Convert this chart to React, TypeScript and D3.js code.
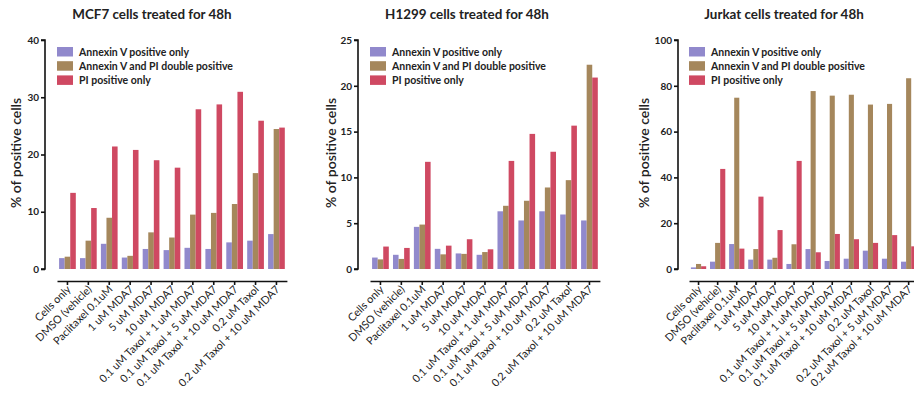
import React, { useRef, useEffect } from "react";
import * as d3 from "d3";

// treatments (x categories)
const categories = [
	"Cells only",
	"DMSO (vehicle)",
	"Paclitaxel 0.1uM",
	"1 uM MDA7",
	"5 uM MDA7",
	"10 uM MDA7",
	"0.1 uM Taxol + 1 uM MDA7",
	"0.1 uM Taxol + 5 uM MDA7",
	"0.1 uM Taxol + 10 uM MDA7",
	"0.2 uM Taxol",
	"0.2 uM Taxol + 10 uM MDA7",
];
const jurkatCategories = [
	"Cells only",
	"DMSO (vehicle)",
	"Paclitaxel 0.1uM",
	"1 uM MDA7",
	"5 uM MDA7",
	"10 uM MDA7",
	"0.1 uM Taxol + 1 uM MDA7",
	"0.1 uM Taxol + 5 uM MDA7",
	"0.1 uM Taxol + 10 uM MDA7",
	"0.2 uM Taxol",
	"0.2 uM Taxol + 5 uM MDA7",
	"0.2 uM Taxol + 10 uM MDA7",
];

const seriesNames = ["Annexin V positive only", "Annexin V and PI double positive", "PI positive only"];
const seriesColors = ["#9189cc", "#a5875c", "#cf4962"];

// MCF7
const mcf7Annexin = [1.9, 1.9, 4.4, 2.0, 3.5, 3.3, 3.7, 3.5, 4.65, 4.95, 6.1];
const mcf7Double = [2.15, 4.95, 8.95, 2.3, 6.4, 5.5, 9.5, 9.8, 11.35, 16.75, 24.45];
const mcf7PI = [13.3, 10.65, 21.4, 20.8, 19.0, 17.7, 27.9, 28.75, 30.95, 25.9, 24.7];

// H1299
const h1299Annexin = [1.25, 1.55, 4.6, 2.2, 1.7, 1.55, 6.3, 5.3, 6.3, 5.95, 5.3];
const h1299Double = [1.05, 1.1, 4.85, 1.6, 1.65, 1.85, 6.9, 7.45, 8.9, 9.7, 22.3];
const h1299PI = [2.45, 2.3, 11.7, 2.55, 3.25, 2.15, 11.8, 14.75, 12.8, 15.65, 20.9];

// Jurkat
const jurkatAnnexin = [0.7, 3.2, 10.9, 4.1, 4.1, 2.2, 8.7, 3.5, 4.5, 8.0, 4.5, 3.2];
const jurkatDouble = [2.2, 11.4, 74.8, 8.7, 4.9, 10.8, 77.7, 75.7, 76.1, 71.8, 72.1, 83.3];
const jurkatPI = [1.2, 43.7, 8.9, 31.6, 17.0, 47.2, 7.3, 15.3, 13.0, 11.4, 14.8, 9.9];

const FONT = "Lato, 'Open Sans', sans-serif";

const panels = [
	{
		title: "MCF7 cells treated for 48h", cats: categories,
		series: [mcf7Annexin, mcf7Double, mcf7PI],
		yMax: 40, ticks: [0, 10, 20, 30, 40],
		yAxisX: 45, xStart: 57, step: 20.9, titleX: 152, labelX: 15,
	},
	{
		title: "H1299 cells treated for 48h", cats: categories,
		series: [h1299Annexin, h1299Double, h1299PI],
		yMax: 25, ticks: [0, 5, 10, 15, 20, 25],
		yAxisX: 358, xStart: 370, step: 20.9, titleX: 467, labelX: 330,
	},
	{
		title: "Jurkat cells treated for 48h", cats: jurkatCategories,
		series: [jurkatAnnexin, jurkatDouble, jurkatPI],
		yMax: 100, ticks: [0, 20, 40, 60, 80, 100],
		yAxisX: 678, xStart: 689, step: 19.1, titleX: 784, labelX: 643,
	},
];

const App = () => {
	const svgRef = useRef(null);
	const W = 914;
	const H = 407;
	const yTop = 40;
	const yBottom = 269;
	const xAxisY = 281;

	useEffect(() => {
		const svg = d3.select(svgRef.current);
		svg.selectAll("*").remove();

		panels.forEach(p => {
			const g = svg.append("g");

			const x = d3.scaleBand()
				.domain(p.cats)
				.range([p.xStart, p.xStart + p.cats.length * p.step])
				.paddingInner(0.2)
				.paddingOuter(0.1);
			const sub = d3.scaleBand()
				.domain(seriesNames)
				.range([0, x.bandwidth()]);
			const y = d3.scaleLinear()
				.domain([0, p.yMax])
				.range([yBottom, yTop]);

			// title
			g.append("text")
				.attr("x", p.titleX)
				.attr("y", 19)
				.attr("text-anchor", "middle")
				.attr("font-family", FONT)
				.attr("font-weight", 700)
				.attr("font-size", 13.4)
				.attr("fill", "#222")
				.text(p.title);

			// y label
			g.append("text")
				.attr("transform", `translate(${p.labelX}, 153) rotate(-90)`)
				.attr("text-anchor", "middle")
				.attr("dominant-baseline", "central")
				.attr("font-family", FONT)
				.attr("font-weight", 600)
				.attr("font-size", 14)
				.attr("fill", "#222")
				.text("% of positive cells");

			// bars
			p.series.forEach((vals, si) => {
				g.append("g")
					.selectAll("rect")
					.data(vals)
					.join("rect")
					.attr("x", (d, i) => x(p.cats[i]) + sub(seriesNames[si]))
					.attr("y", d => y(d))
					.attr("width", sub.bandwidth())
					.attr("height", d => yBottom - y(d))
					.attr("fill", seriesColors[si]);
			});

			// y axis
			const yAxis = d3.axisLeft(y).tickValues(p.ticks).tickSize(4).tickPadding(2);
			const ya = g.append("g")
				.attr("transform", `translate(${p.yAxisX},0)`)
				.call(yAxis);
			ya.select(".domain").attr("stroke", "#111").attr("stroke-width", 1.6)
				.attr("d", `M-4,${yTop}H0V${yBottom}H-4`);
			ya.selectAll(".tick line").attr("stroke", "#111").attr("stroke-width", 1.6);
			ya.selectAll(".tick text")
				.attr("font-family", FONT)
				.attr("font-weight", 700)
				.attr("font-size", 10)
				.attr("fill", "#222");

			// x axis
			const xAxis = d3.axisBottom(x).tickSize(4).tickSizeOuter(0).tickFormat(() => "");
			const xa = g.append("g")
				.attr("transform", `translate(0,${xAxisY})`)
				.call(xAxis);
			xa.select(".domain").attr("stroke", "#111").attr("stroke-width", 1.6);
			xa.selectAll(".tick line").attr("stroke", "#111").attr("stroke-width", 1.6);

			g.append("g")
				.selectAll("text")
				.data(p.cats)
				.join("text")
				.attr("transform", d => `translate(${x(d) + x.bandwidth() / 2 + 4}, ${xAxisY + 9}) rotate(-45)`)
				.attr("text-anchor", "end")
				.attr("font-family", FONT)
				.attr("font-size", 10.8)
				.attr("fill", "#1a1a1a")
				.text(d => d);

			// legend
			const lg = g.append("g").attr("transform", `translate(${p.xStart}, 47)`);
			seriesNames.forEach((s, i) => {
				lg.append("rect")
					.attr("x", 0)
					.attr("y", i * 14.2)
					.attr("width", 16)
					.attr("height", 9.5)
					.attr("fill", seriesColors[i]);
				lg.append("text")
					.attr("x", 22)
					.attr("y", i * 14.2 + 5)
					.attr("dominant-baseline", "central")
					.attr("font-family", FONT)
					.attr("font-weight", 700)
					.attr("font-size", 10.5)
					.attr("fill", "#222")
					.text(s);
			});
		});
	});

	return (
		<div>
			<svg ref={svgRef} width={W} height={H}
				style={{ position: "absolute", left: 0, top: 0, background: "#fff" }}>
			</svg>
		</div>
	);
};

export default App;
